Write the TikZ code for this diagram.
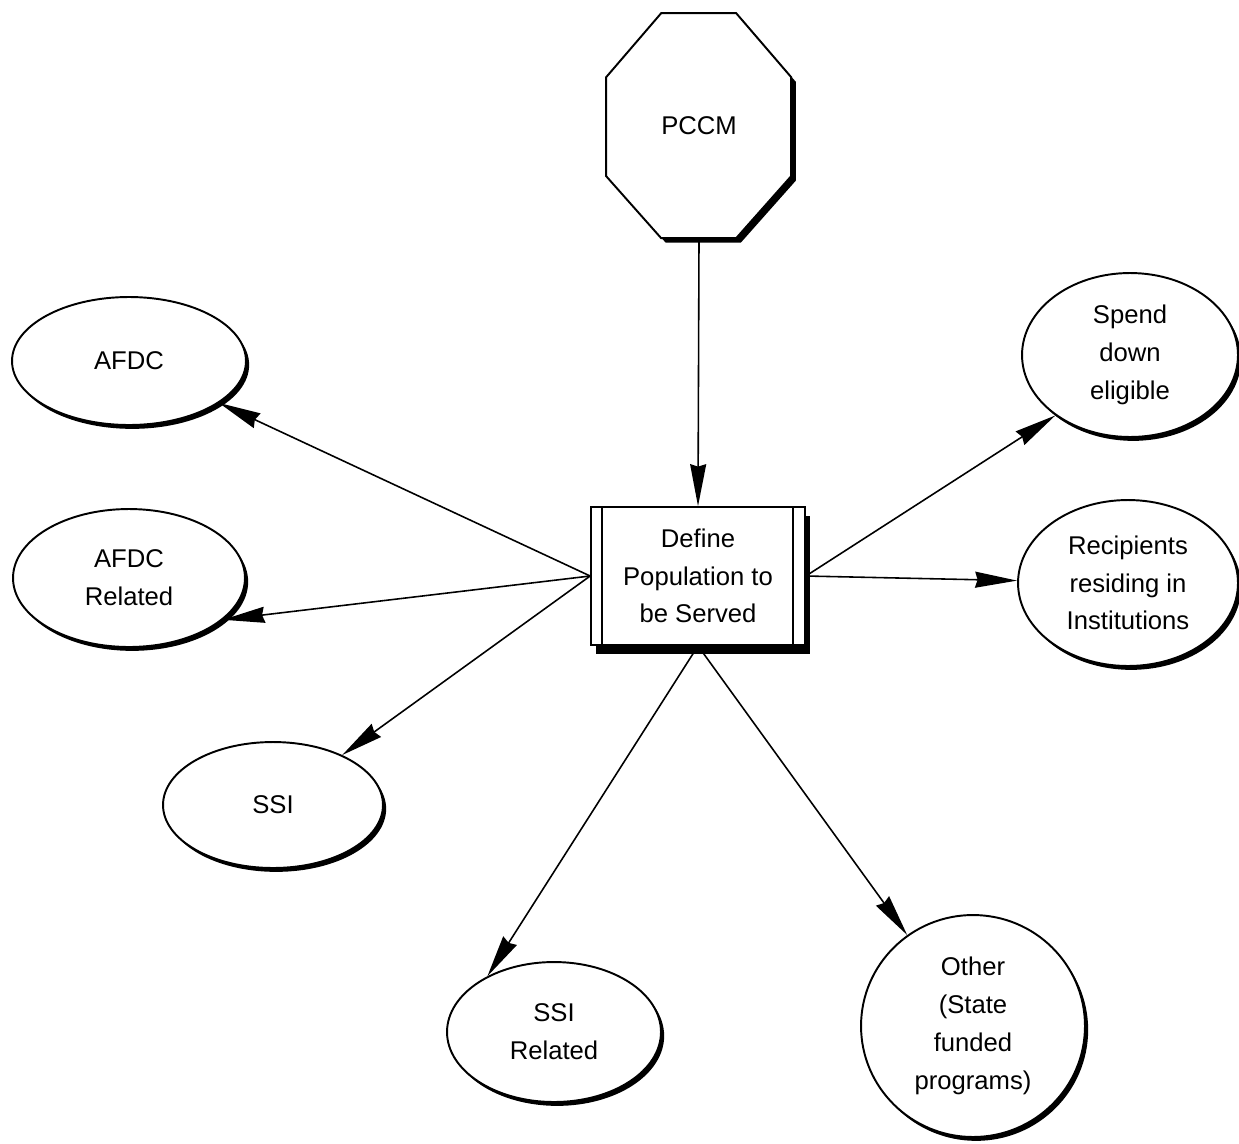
\documentclass[tikz,border=0pt]{standalone}
\usepackage{fontspec}
\setmainfont{Liberation Sans}
\usetikzlibrary{shapes.geometric,shadows,arrows.meta,calc}

\begin{document}
\begin{tikzpicture}[x=0.02cm,y=-0.02cm,
  lbl/.style={font=\fontsize{14.6}{21.5}\selectfont, align=center, inner sep=0pt},
  oval/.style={lbl, ellipse, draw, line width=1.1pt, fill=white,
    drop shadow={shadow xshift=1.8pt, shadow yshift=-2.2pt, fill=black, opacity=1}},
  arr/.style={line width=0.9pt, -{Stealth[length=0.84cm,width=0.32cm,inset=0.05cm]}},
]
\useasboundingbox[fill=white] (0,0) rectangle (1239,1143);

% octagon around PCCM
\node[lbl, minimum width=3.7cm, minimum height=4.5cm] (pccm) at (699,126) {PCCM};
\path[draw, line width=1.1pt, fill=white,
      drop shadow={shadow xshift=2.6pt, shadow yshift=-2.6pt, fill=black, opacity=1}]
  ($(pccm.north west)+(55,0)$) -- ($(pccm.north west)+(130,0)$)
  -- ($(pccm.north west)+(185,64)$) -- ($(pccm.north west)+(185,163)$)
  -- ($(pccm.north west)+(130,225)$) -- ($(pccm.north west)+(55,225)$)
  -- ($(pccm.north west)+(0,163)$) -- ($(pccm.north west)+(0,64)$) -- cycle;
\node[lbl] at (pccm) {PCCM};

% central process box
\node[lbl, draw, line width=1pt, fill=white, minimum width=4.28cm, minimum height=2.76cm,
      drop shadow={shadow xshift=2.8pt, shadow yshift=-5pt, fill=black, opacity=1}]
  (box) at (698,576) {Define\\Population to\\be Served};
\draw[line width=0.8pt] ([xshift=0.24cm]box.north west) -- ([xshift=0.24cm]box.south west);
\draw[line width=0.8pt] ([xshift=-0.26cm]box.north east) -- ([xshift=-0.26cm]box.south east);

% population groups
\node[oval, minimum width=4.68cm, minimum height=2.56cm] (afdc)  at (129,361)  {AFDC};
\node[oval, minimum width=4.64cm, minimum height=2.76cm] (afdcr) at (129,578)  {AFDC\\Related};
\node[oval, minimum width=4.4cm,  minimum height=2.52cm] (ssi)   at (273,805)  {SSI};
\node[oval, minimum width=4.28cm, minimum height=2.8cm]  (ssir)  at (554,1032) {SSI\\Related};
\node[oval, minimum width=4.48cm, minimum height=4.44cm] (other) at (973,1026) {Other\\(State\\funded\\programs)};
\node[oval, minimum width=4.32cm, minimum height=3.28cm] (spend) at (1130,355) {Spend\\down\\eligible};
\node[oval, minimum width=4.4cm,  minimum height=3.32cm] (rec)   at (1128,583) {Recipients\\residing in\\Institutions};

% connectors
\draw[arr] (pccm.south) -- (box.north);
\draw[arr] (box.west) -- (afdc);
\draw[arr] (box.west) -- (afdcr.-24);
\draw[arr] (box.west) -- (ssi);
\draw[arr] (box.south) -- (ssir.140);
\draw[arr] (box.south) -- (other);
\draw[arr] (box.east) -- (spend.219);
\draw[arr] (box.east) -- (rec);
\end{tikzpicture}
\end{document}
